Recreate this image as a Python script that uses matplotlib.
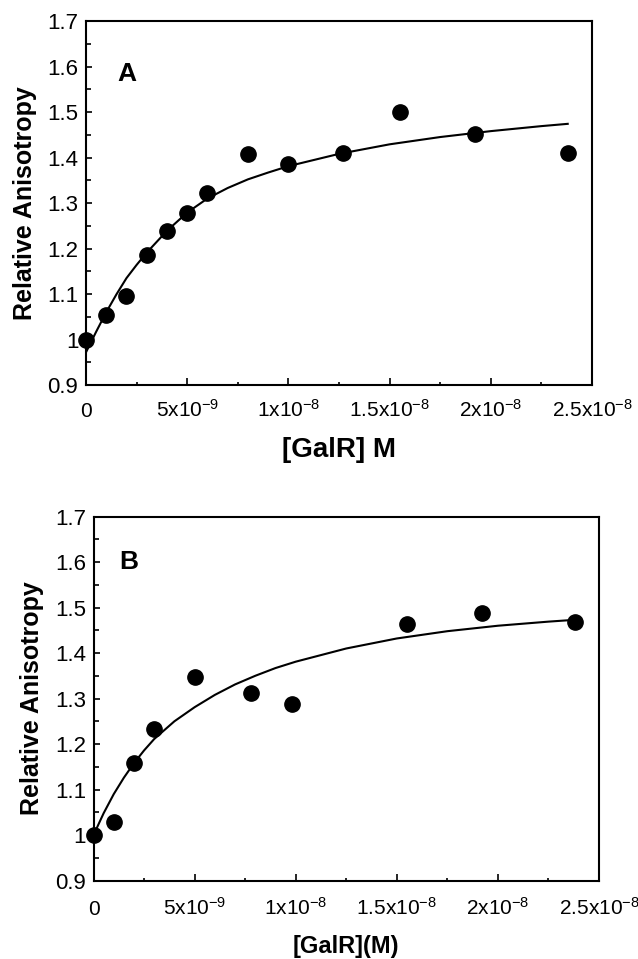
import matplotlib
matplotlib.use("Agg")
import matplotlib.pyplot as plt
from matplotlib.ticker import MultipleLocator, FixedLocator, FixedFormatter

plt.rcParams['font.family'] = ['Liberation Sans', 'DejaVu Sans']
plt.rcParams['mathtext.fontset'] = 'custom'
plt.rcParams['mathtext.rm'] = 'Liberation Sans'
plt.rcParams['mathtext.it'] = 'Liberation Sans'
plt.rcParams['mathtext.bf'] = 'Liberation Sans:bold'

# Panel A data (x in M)
a_x = [0, 1e-9, 2e-9, 3e-9, 4e-9, 5e-9, 6e-9, 8e-9, 10e-9, 12.7e-9, 15.5e-9, 19.2e-9, 23.8e-9]
a_y = [1.000, 1.053, 1.096, 1.185, 1.239, 1.279, 1.322, 1.407, 1.385, 1.409, 1.499, 1.451, 1.409]
# Panel A fitted curve
a_cx = [0, 0.5e-9, 1e-9, 1.5e-9, 2e-9, 2.5e-9, 3e-9, 4e-9, 5e-9, 6e-9, 7e-9, 8e-9, 9e-9, 10e-9,
        12.5e-9, 15e-9, 17.5e-9, 20e-9, 22.5e-9, 23.8e-9]
a_cy = [0.972, 1.017, 1.060, 1.099, 1.135, 1.164, 1.191, 1.239, 1.279, 1.310, 1.333, 1.352, 1.367, 1.381,
        1.408, 1.429, 1.445, 1.458, 1.469, 1.474]

# Panel B data
b_x = [0, 1e-9, 2e-9, 3e-9, 5e-9, 7.8e-9, 9.8e-9, 15.5e-9, 19.2e-9, 23.8e-9]
b_y = [1.000, 1.029, 1.159, 1.233, 1.347, 1.313, 1.289, 1.463, 1.487, 1.469]
# Panel B fitted curve
b_cx = [0, 0.5e-9, 1e-9, 1.5e-9, 2e-9, 2.5e-9, 3e-9, 4e-9, 5e-9, 6e-9, 7e-9, 8e-9, 9e-9, 10e-9,
        12.5e-9, 15e-9, 17.5e-9, 20e-9, 22.5e-9, 23.8e-9]
b_cy = [1.000, 1.048, 1.090, 1.126, 1.158, 1.186, 1.211, 1.250, 1.281, 1.308, 1.331, 1.350, 1.367, 1.381,
        1.410, 1.432, 1.448, 1.460, 1.469, 1.473]

x_ticks = [0, 5e-9, 1e-8, 1.5e-8, 2e-8, 2.5e-8]
x_labels = ['0', '5x10$^{-9}$', '1x10$^{-8}$', '1.5x10$^{-8}$', '2x10$^{-8}$', '2.5x10$^{-8}$']
y_ticks = [0.9, 1.0, 1.1, 1.2, 1.3, 1.4, 1.5, 1.6, 1.7]
y_labels = ['0.9', '1', '1.1', '1.2', '1.3', '1.4', '1.5', '1.6', '1.7']

fig = plt.figure(figsize=(6.38, 9.59), dpi=100)
axA = fig.add_axes([0.1348, 0.5985, 0.7931, 0.3796])
axB = fig.add_axes([0.1466, 0.0818, 0.7923, 0.3796])

def style(ax, xs, ys, cx, cy, letter, lx, ly, xlabel, xlsize, xlab_y, xpad):
    ax.plot(cx, cy, color='black', lw=1.5, zorder=2)
    ax.plot(xs, ys, 'o', color='black', ms=11, clip_on=False, zorder=3)
    ax.set_xlim(0, 2.5e-8)
    ax.set_ylim(0.9, 1.7)
    ax.xaxis.set_major_locator(FixedLocator(x_ticks))
    ax.xaxis.set_major_formatter(FixedFormatter(x_labels))
    ax.xaxis.set_minor_locator(MultipleLocator(2.5e-9))
    ax.yaxis.set_major_locator(FixedLocator(y_ticks))
    ax.yaxis.set_major_formatter(FixedFormatter(y_labels))
    ax.yaxis.set_minor_locator(MultipleLocator(0.05))
    ax.tick_params(which='both', direction='in', width=1.2)
    ax.tick_params(axis='x', which='major', length=5, pad=xpad, labelsize=15)
    ax.tick_params(axis='x', which='minor', length=2.5)
    ax.tick_params(axis='y', which='major', length=4.5, pad=5.5, labelsize=16)
    ax.tick_params(axis='y', which='minor', length=3.5)
    for lbl in ax.get_xticklabels():
        lbl.set_verticalalignment('baseline')
    for s in ax.spines.values():
        s.set_linewidth(1.5)
    ax.set_ylabel('Relative Anisotropy', fontsize=18, fontweight='bold')
    ax.yaxis.set_label_coords(-0.097, 0.5)
    ax.set_xlabel(xlabel, fontsize=xlsize, fontweight='bold')
    ax.xaxis.set_label_coords(0.5, xlab_y)
    ax.text(lx, ly, letter, fontsize=19, fontweight='bold', ha='center', va='center')

style(axA, a_x, a_y, a_cx, a_cy, 'A', 2.03e-9, 1.584, '[GalR] M', 20, -0.142, 23)
style(axB, b_x, b_y, b_cx, b_cy, 'B', 1.73e-9, 1.601, '[GalR](M)', 17, -0.150, 25)

fig.savefig('out.png', dpi=100)
